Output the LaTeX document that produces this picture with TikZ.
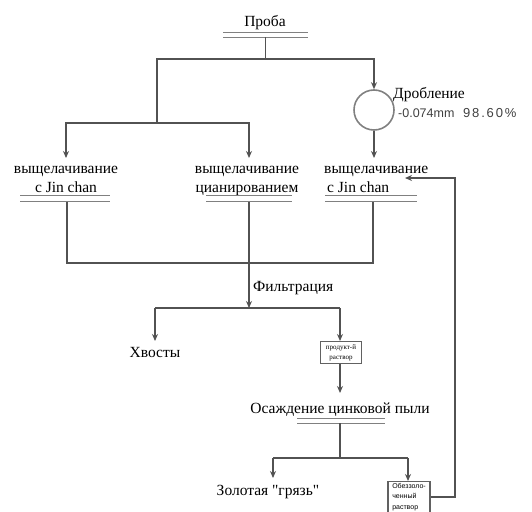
\documentclass[tikz,border=0pt]{standalone}
\usepackage{fontspec}
\setmainfont{Liberation Serif}
\newfontfamily\sansf{Liberation Sans}
\newfontfamily\plainserif{Liberation Serif}[Ligatures=TeXOff]
\usetikzlibrary{arrows.meta}
\begin{document}
\begin{tikzpicture}[x=1pt,y=-1pt,
  line/.style={draw=black!68, line width=1.7pt},
  arr/.style={line, -{Stealth[length=7pt,width=6pt]}},
  lbl/.style={font=\fontsize{15.5}{19}\selectfont, align=center, inner sep=0pt, text=black},
  barnode/.style={minimum width=#1, minimum height=5pt, inner sep=0pt, outer sep=0pt},
  barline/.style={draw=black!50, line width=1.3pt},
  smallbox/.style={draw=black!62, line width=1.2pt, fill=white, inner sep=1.5pt,
    font=\fontsize{7}{9.5}\selectfont},
]
\useasboundingbox (0,0) rectangle (532,511);

% Проба
\node[lbl, anchor=base] (proba) at (265,27) {Проба};
\node[barnode=85pt] (pbar) at (265.5,35) {};
\draw[barline] (pbar.north west) -- (pbar.north east) (pbar.south west) -- (pbar.south east);

\coordinate (j1l) at (157,59);
\coordinate (j1r) at (374,59);
\coordinate (j2) at (157,123);

% crushing
\node[circle, draw=black!50, line width=1.6pt, minimum size=40pt, inner sep=0pt] (crush) at (374,110) {};
\node[lbl, anchor=base west] (crushlbl) at (393,98) {Дробление};
\node[anchor=base west, inner sep=0pt, font=\sansf\fontsize{12.5}{14}\selectfont, text=black!75] (size) at (398,117) {-0.074mm};
\node[anchor=base west, inner sep=0pt, font=\sansf\fontsize{13}{14}\selectfont\addfontfeature{LetterSpace=14}, text=black!75] (pct) at (463,117) {98.60\%};

\draw[line] (pbar.south) -- (pbar.south |- j1l);
\draw[arr] (j2) -- (j1l) -- (j1r) -- (crush.north);

% leaching
\node[lbl, anchor=north, outer ysep=8pt] (leach1) at (66,158) {выщелачивание\\с Jin chan};
\node[lbl, anchor=north, outer ysep=8pt] (leach2) at (247,158) {выщелачивание\\цианированием};
\node[lbl, align=left, anchor=north west, outer ysep=8pt] (leach3) at (324,158) {выщелачивание\\\hspace*{3pt}с Jin chan};

\draw[arr] (j2) -| (leach1.north);
\draw[arr] (j2) -| (leach2.north -| 249,0);
\draw[arr] (crush.south) -- (crush.south |- leach3.north);

\node[barnode=90pt, minimum height=6pt] (bar1) at (65,198.5) {};
\node[barnode=86pt, minimum height=6pt] (bar2) at (249,198.5) {};
\node[barnode=92pt, minimum height=6pt] (bar3) at (371,198.5) {};
\foreach \b in {bar1,bar2,bar3}
  \draw[barline] (\b.north west) -- (\b.north east) (\b.south west) -- (\b.south east);

\coordinate (j3l) at (67,263);
\coordinate (j3r) at (373,263);
\coordinate (j4) at (249,308);
\coordinate (j4l) at (155,308);
\coordinate (j4r) at (340,308);

\draw[line] (bar1.south -| j3l) -- (j3l) -- (j3r) -- (bar3.south -| j3r);
\draw[arr] (bar2.south) -- (j4);
\draw[line] (j4l) -- (j4r);
\node[lbl, anchor=west] (filt) at (253,288) {Фильтрация};

% tails and product solution
\node[lbl, anchor=north, outer ysep=6pt] (tails) at (155,341) {Хвосты};
\draw[arr] (j4l) -- (tails.north);
\node[smallbox, anchor=north, minimum width=41pt, minimum height=22pt, align=center] (prod) at (341,341) {продукт-й\\раствор};
\draw[arr] (j4r) -- (prod.north -| j4r);

% zinc dust precipitation
\node[lbl, anchor=north, outer ysep=10pt] (osad) at (340,393) {Осаждение цинковой пыли};
\draw[arr] (prod.south -| j4r) -- (osad.north -| j4r);
\node[barnode=88pt, minimum height=4.5pt] (obar) at (341,421) {};
\draw[barline] (obar.north west) -- (obar.north east) (obar.south west) -- (obar.south east);

\coordinate (j5) at (340,458);
\coordinate (j5l) at (273,458);
\coordinate (j5r) at (408,458);
\draw[line] (obar.south -| j5) -- (j5);
\draw[line] (j5l) -- (j5r);

\node[lbl, anchor=north, outer ysep=7pt, font=\plainserif\fontsize{15.5}{19}\selectfont] (gold) at (268,478) {Золотая "грязь"};
\draw[arr] (j5l) -- (j5l |- gold.north);

\node[smallbox, anchor=north, minimum width=42pt, align=left, font=\sansf\fontsize{7}{10.5}\selectfont] (barren) at (409,481) {Обеззоло-\\ченный\\раствор};
\draw[arr] (j5r) -- (j5r |- barren.north);

% recycle
\coordinate (fbc) at (455,178);
\coordinate (fbtip) at (405,178);
\draw[arr] (barren.east) -| (fbc) -- (fbtip);
\end{tikzpicture}
\end{document}
